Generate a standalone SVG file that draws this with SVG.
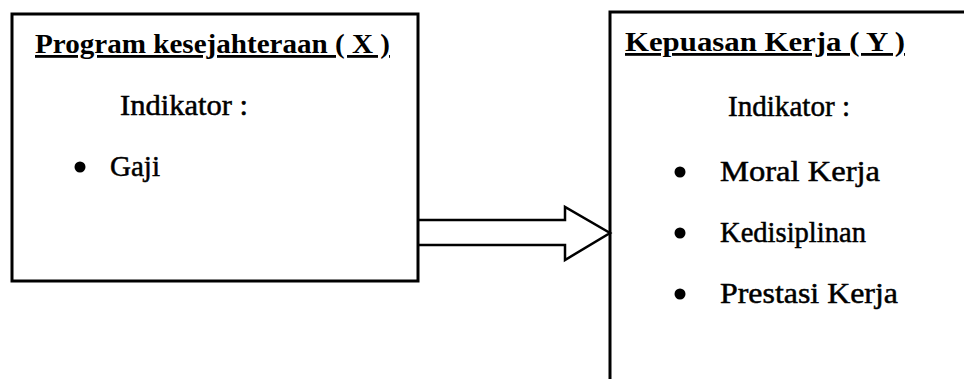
<svg xmlns="http://www.w3.org/2000/svg" width="973" height="379" viewBox="0 0 973 379">
<style>
.box{fill:none;stroke:#000;stroke-width:3}
.title{font-family:"Liberation Serif","Times New Roman",serif;font-weight:bold;font-size:28px;text-decoration:underline;fill:#000}
.txt{font-family:"Liberation Serif","Times New Roman",serif;font-size:29px;fill:#000;stroke:#000;stroke-width:0.5}
.arrow{fill:none;stroke:#000;stroke-width:2.5;stroke-linejoin:miter}
</style>
<rect width="973" height="379" fill="#fff"/>
<g id="node-x">
<rect class="box" x="12" y="14" width="406" height="267"/>
<text class="title" x="35" y="53" textLength="355" lengthAdjust="spacingAndGlyphs">Program kesejahteraan ( X )</text>
<text class="txt" x="120" y="115" textLength="128" lengthAdjust="spacingAndGlyphs">Indikator :</text>
<circle cx="80" cy="167" r="5.5"/>
<text class="txt" x="110" y="176" textLength="50" lengthAdjust="spacingAndGlyphs">Gaji</text>
</g>
<g id="node-y">
<path class="box" d="M610,385 V12 H964"/>
<text class="title" x="625" y="51" textLength="280" lengthAdjust="spacingAndGlyphs">Kepuasan Kerja ( Y )</text>
<text class="txt" x="728" y="116" textLength="122" lengthAdjust="spacingAndGlyphs">Indikator :</text>
<circle cx="680" cy="172" r="5.5"/>
<text class="txt" x="720" y="181" textLength="160" lengthAdjust="spacingAndGlyphs">Moral Kerja</text>
<circle cx="680" cy="233" r="5.5"/>
<text class="txt" x="720" y="242" textLength="146" lengthAdjust="spacingAndGlyphs">Kedisiplinan</text>
<circle cx="680" cy="294" r="5.5"/>
<text class="txt" x="720" y="303" textLength="178" lengthAdjust="spacingAndGlyphs">Prestasi Kerja</text>
</g>
<g id="connectors">
<path class="arrow" d="M418,220 H565 V207 L610,233 L565,260 V245 H418"/>
</g>
</svg>
